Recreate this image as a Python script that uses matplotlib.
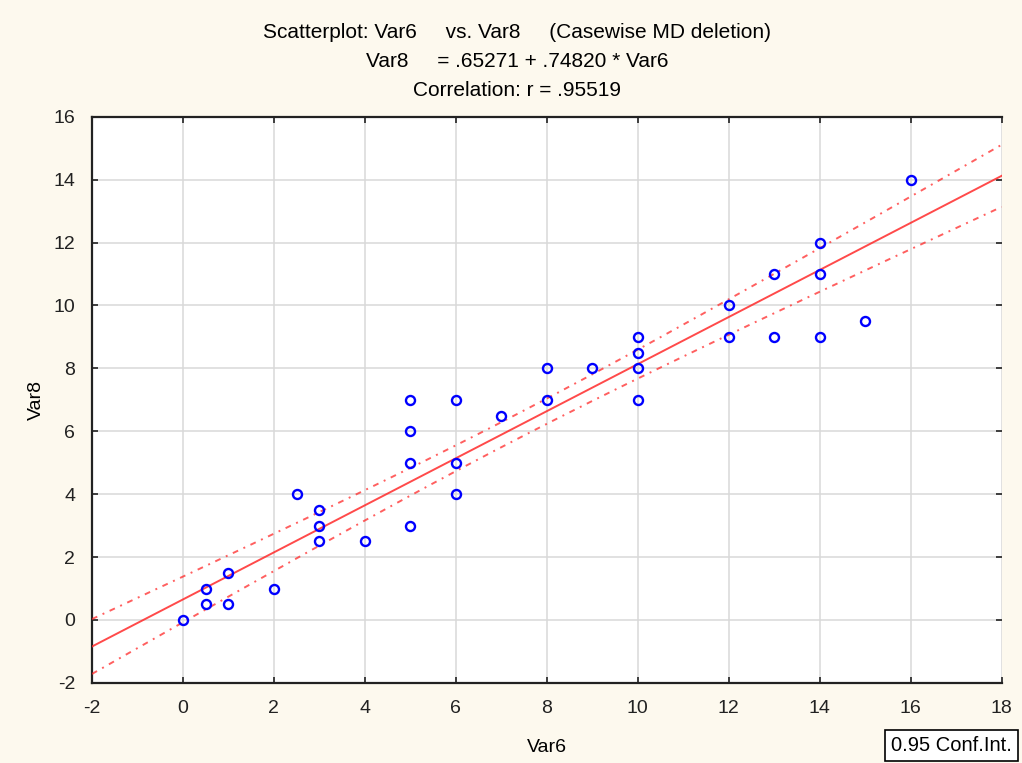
import numpy as np
import matplotlib
matplotlib.use("Agg")
import matplotlib.pyplot as plt

var6 = [0, 0.5, 0.5, 1, 1, 2, 2.5, 3, 3, 3, 4, 5, 5, 5, 5, 6, 6, 6, 7, 8, 8, 9,
        10, 10, 10, 10, 12, 12, 13, 13, 14, 14, 14, 15, 16]
var8 = [0, 1, 0.5, 1.5, 0.5, 1, 4, 3.5, 3, 2.5, 2.5, 7, 6, 5, 3, 7, 5, 4, 6.5, 8, 7, 8,
        9, 8.5, 8, 7, 10, 9, 11, 9, 12, 11, 9, 9.5, 14]
intercept = 0.65271
slope = 0.74820
r_value = 0.95519
conf_level = 0.95
t_crit = 2.035

x = np.array(var6, float)
y = np.array(var8, float)
n = len(x)
resid = y - (intercept + slope * x)
s = np.sqrt(np.sum(resid ** 2) / (n - 2))
xbar = x.mean()
sxx = np.sum((x - xbar) ** 2)

plt.rcParams['font.family'] = ['Liberation Sans', 'DejaVu Sans']
plt.rcParams['axes.unicode_minus'] = False
fig = plt.figure(figsize=(10.22, 7.63), dpi=100, facecolor='#fdf9ee')
ax = fig.add_axes([0.090, 0.105, 0.890, 0.742])
ax.set_facecolor('white')

xs = np.linspace(-2, 18, 200)
yfit = intercept + slope * xs
half = t_crit * s * np.sqrt(1.0 / n + (xs - xbar) ** 2 / sxx)
red = '#ff2a2a'
ax.plot(xs, yfit, color=red, lw=1.4, alpha=0.85, zorder=3)
ax.plot(xs, yfit + half, color=red, lw=1.4, alpha=0.75, ls=(0, (3, 3, 1, 3)), zorder=3)
ax.plot(xs, yfit - half, color=red, lw=1.4, alpha=0.75, ls=(0, (3, 3, 1, 3)), zorder=3)

ax.plot(x, y, ls='none', marker='o', ms=6.5, mfc='none', mec='#0000ff', mew=1.7, zorder=4)

ax.set_xlim(-2, 18)
ax.set_ylim(-2, 16)
ax.set_xticks(np.arange(-2, 19, 2))
ax.set_yticks(np.arange(-2, 17, 2))
ax.grid(True, color='#d9d9d9', lw=1.1, zorder=0)
ax.set_axisbelow(True)
for side in ['left', 'bottom', 'top']:
    ax.spines[side].set_linewidth(1.6)
    ax.spines[side].set_color('#222222')
ax.spines['right'].set_visible(False)
ax.tick_params(direction='in', length=4, width=1.2, top=True, right=True,
               labelsize=14, pad=12, colors='#222222')
ax.tick_params(axis='y', pad=12)
ax.set_xlabel('Var6', fontsize=14, labelpad=16)
ax.set_ylabel('Var8', fontsize=14, labelpad=6)

fig.text(0.506, 0.958, 'Scatterplot: Var6     vs. Var8     (Casewise MD deletion)',
         ha='center', va='center', fontsize=15)
fig.text(0.506, 0.920, f'Var8     = {intercept:.5f}'.replace('0.', '.') +
         f' + {slope:.5f}'.replace('0.', '.') + ' * Var6',
         ha='center', va='center', fontsize=15)
fig.text(0.506, 0.881, f'Correlation: r = {r_value:.5f}'.replace('0.', '.'),
         ha='center', va='center', fontsize=15)

fig.text(0.872, 0.010, f'{conf_level:.2f} Conf.Int.', fontsize=14.5, ha='left', va='bottom',
         bbox=dict(boxstyle='square,pad=0.3', fc='white', ec='black', lw=1.2))

fig.savefig('out.png', dpi=100, facecolor=fig.get_facecolor())
